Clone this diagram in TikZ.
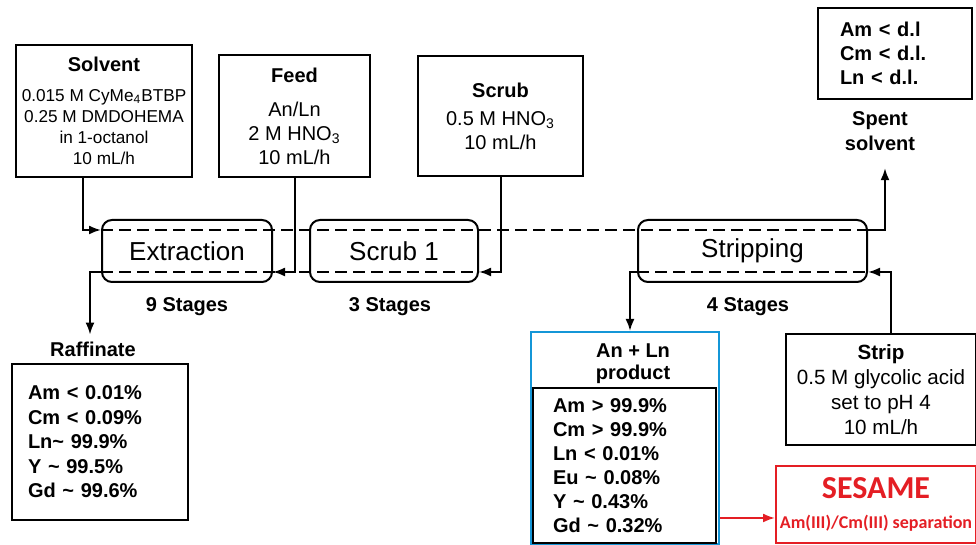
\documentclass[tikz,border=0pt]{standalone}
\usepackage{fontspec}
\setmainfont{Liberation Sans}
\newfontfamily\sesamefont{Carlito}
\usepackage{xcolor}
\usepackage{tikz}
\usetikzlibrary{arrows.meta,positioning,calc}
\definecolor{productblue}{RGB}{20,150,215}
\definecolor{sesamered}{RGB}{228,30,36}

\begin{document}
\begin{tikzpicture}[x=0.5pt,y=0.5pt,
	feedbox/.style={draw,line width=1pt,align=center,inner sep=0pt,font=\fontsize{10}{12}\selectfont},
	stagebox/.style={draw,line width=1pt,rounded corners=5pt,inner sep=0pt,minimum height=31pt,font=\fontsize{13}{15}\selectfont},
	listbox/.style={draw,line width=1pt,align=left,inner ysep=0pt,font=\bfseries\fontsize{10}{12.25}\selectfont},
	flow/.style={line width=1pt,-{Latex[length=6pt,width=4.5pt]}},
	phase/.style={line width=1pt,dash pattern=on 6pt off 3pt},
	stagelbl/.style={font=\bfseries\fontsize{10}{12}\selectfont}]
			\useasboundingbox (0,0) rectangle (976,545);
			
			\coordinate (upper) at (0,315);
			\coordinate (lower) at (0,273);
			\coordinate (redline) at (0,27);
			
			\node[feedbox,minimum width=88pt,minimum height=66pt,font=\fontsize{8.6}{10.5}\selectfont] (solvent) at (104,434)
				{{\bfseries\fontsize{10}{12}\selectfont Solvent}\\[4.5pt]0.015 M CyMe\textsubscript{4}BTBP\\0.25 M DMDOHEMA\\in 1-octanol\\10 mL/h};
			\node[feedbox,minimum width=75.5pt,minimum height=61pt] (feed) at (294.5,429)
				{\textbf{Feed}\\[5pt]An/Ln\\2 M HNO\textsubscript{3}\\10 mL/h};
			\node[feedbox,minimum width=82.5pt,minimum height=60pt] (scrub) at (500.5,429)
				{\textbf{Scrub}\\[2pt]0.5 M HNO\textsubscript{3}\\10 mL/h};
			\node[listbox,text width=55pt,inner xsep=11pt,minimum height=45.5pt,font=\bfseries\fontsize{10}{12}\selectfont] (spent) at (895,491.5)
				{Am < d.l\\Cm < d.l.\\Ln < d.l.};
			\node[stagelbl,align=center,font=\bfseries\fontsize{10}{12.5}\selectfont] (spentlbl) at (880,413.5) {Spent\\solvent};
			
			\node[stagebox,minimum width=85pt] (extraction) at (187,294) {Extraction};
			\node[stagebox,minimum width=84pt] (scrubone) at (394,294) {Scrub 1};
			\node[stagebox,minimum width=114.5pt] (stripping) at (752.5,294) {Stripping};
			
			\draw[phase] (extraction.west |- upper) -- (stripping.east |- upper);
			\draw[phase] (extraction.west |- lower) -- (scrubone.east |- lower);
			\draw[phase] (stripping.west |- lower) -- (stripping.east |- lower);
			
			\node[stagelbl] (ninestg) at (187,238) {9 Stages};
			\node[stagelbl] (threestg) at (390,238) {3 Stages};
			\node[stagelbl] (fourstg) at (748,238) {4 Stages};
			
			\node[stagelbl] (raflbl) at (93,196) {Raffinate};
			\node[listbox,text width=72pt,inner xsep=8pt,minimum height=78pt] (raffinate) at (100,103)
				{Am < 0.01\%\\Cm < 0.09\%\\Ln\textasciitilde\ 99.9\%\\Y \textasciitilde\ 99.5\%\\Gd \textasciitilde\ 99.6\%};
			
			\node[draw=productblue,line width=1pt,minimum width=94pt,minimum height=106pt,inner sep=0pt] (prodframe) at (625,107) {};
			\node[stagelbl,align=center,font=\bfseries\fontsize{10}{11}\selectfont] (prodlbl) at (633,181) {An + Ln\\product};
			\node[listbox,text width=71.5pt,inner xsep=10pt,minimum height=77.5pt,font=\bfseries\fontsize{10}{12}\selectfont] (product) at (624.5,79.5)
				{Am > 99.9\%\\Cm > 99.9\%\\Ln < 0.01\%\\Eu \textasciitilde\ 0.08\%\\Y \textasciitilde\ 0.43\%\\Gd \textasciitilde\ 0.32\%};
			
			\node[feedbox,minimum width=95pt,minimum height=55.5pt,font=\fontsize{10.3}{12.5}\selectfont] (strip) at (881,155.5)
				{\textbf{Strip}\\0.5 M glycolic acid\\set to pH 4\\10 mL/h};
			\node[draw=sesamered,line width=1pt,text=sesamered,align=center,minimum width=100pt,minimum height=38.5pt,inner sep=0pt,font=\sesamefont\bfseries\fontsize{9}{15}\selectfont] (sesame) at (876,40.5)
				{{\fontsize{16}{15}\selectfont SESAME}\\Am(III)/Cm(III) separation};
			
			\draw[flow] ([xshift=-10.5pt]solvent.south) |- (extraction.west |- upper);
			\draw[flow] (feed.south) |- (extraction.east |- lower);
			\draw[flow] (scrub.south) |- (scrubone.east |- lower);
			\draw[flow] (extraction.west |- lower) -| ([xshift=-1.5pt]raflbl.north);
			\draw[flow] (stripping.east |- upper) -| ([xshift=2.5pt,yshift=-5pt]spentlbl.south);
			\draw[flow] ([xshift=5pt]strip.north) |- (stripping.east |- lower);
			\draw[flow] (stripping.west |- lower) -| ([xshift=2.5pt]prodframe.north);
			\draw[flow,sesamered] (prodframe.east |- redline) -- (sesame.west |- redline);
			
		\end{tikzpicture}
\end{document}
